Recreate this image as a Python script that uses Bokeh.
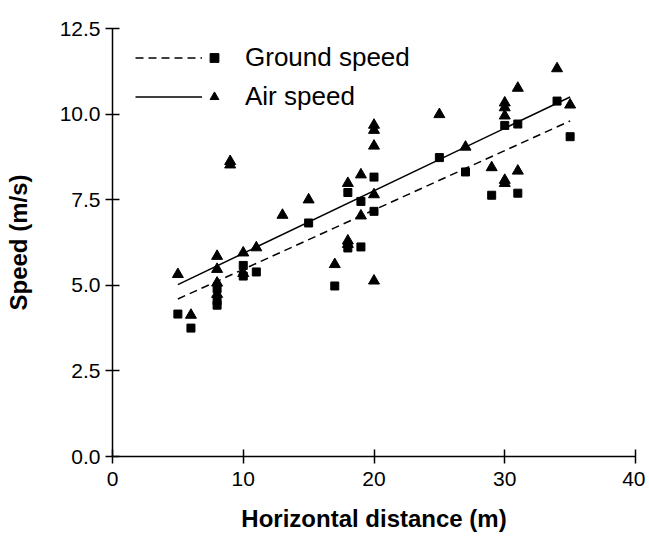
from bokeh.plotting import figure
from bokeh.models import Range1d, FixedTicker, PrintfTickFormatter, Legend, LegendItem
from bokeh.embed import file_html
from bokeh.resources import INLINE

# Ground speed (squares)
ground_x = [5, 6, 8, 8, 8, 10, 10, 11, 15, 17, 18, 18, 19, 19, 20, 20, 25, 27, 29, 30, 31, 31, 34, 35]
ground_y = [4.16, 3.75, 4.9, 4.55, 4.42, 5.58, 5.27, 5.39, 6.82, 4.98, 7.71, 6.09, 7.45, 6.12, 8.16, 7.16,
            8.73, 8.31, 7.63, 9.67, 9.71, 7.69, 10.38, 9.34]

# Air speed (triangles)
air_x = [5, 6, 8, 8, 8, 8, 9, 9, 10, 10, 11, 13, 15, 17, 18, 18, 18, 19, 19, 20, 20, 20, 20, 20,
         25, 27, 29, 30, 30, 30, 30, 30, 31, 31, 34, 35]
air_y = [5.32, 4.13, 5.85, 5.47, 5.07, 4.74, 8.62, 8.52, 5.95, 5.35, 6.1, 7.05, 7.5, 5.61, 7.98, 6.3, 6.2,
         8.23, 7.03, 9.68, 9.53, 9.07, 7.65, 5.13, 9.99, 9.04, 8.44, 10.33, 10.19, 9.95, 8.07, 7.98,
         10.76, 8.34, 11.33, 10.27]

# Regression lines (end points)
fit_x = [5, 35]
ground_fit = [4.6, 9.8]
air_fit = [5.02, 10.5]

x_ticks = [0, 10, 20, 30, 40]
y_ticks = [0, 2.5, 5, 7.5, 10, 12.5]

FONT = "Liberation Sans"

p = figure(width=645, height=534, output_backend="svg", toolbar_location=None,
           x_range=Range1d(0, 40), y_range=Range1d(0, 12.5),
           min_border_left=112, min_border_top=28, min_border_right=10, min_border_bottom=76,
           x_axis_label="Horizontal distance (m)", y_axis_label="Speed (m/s)")
p.grid.visible = False
p.outline_line_color = None
p.background_fill_color = "white"
p.border_fill_color = "white"

r_gl = p.line(fit_x, ground_fit, line_dash="8 5", line_width=1.5, line_color="black")
r_al = p.line(fit_x, air_fit, line_width=1.5, line_color="black")
r_gs = p.scatter(ground_x, ground_y, marker="square", size=8, color="black")
r_as = p.scatter(air_x, air_y, marker="triangle", size=11, color="black")

for ax in (p.xaxis[0], p.yaxis[0]):
    ax.axis_line_width = 1.5
    ax.axis_line_color = "black"
    ax.major_tick_line_width = 1.5
    ax.major_tick_line_color = "black"
    ax.major_tick_in = 7
    ax.major_tick_out = 7
    ax.minor_tick_line_color = None
    ax.major_label_text_font = FONT
    ax.major_label_text_font_size = "21px"
    ax.major_label_text_color = "black"
    ax.axis_label_text_font = FONT
    ax.axis_label_text_font_size = "24px"
    ax.axis_label_text_font_style = "bold"
    ax.axis_label_text_color = "black"

p.xaxis.ticker = FixedTicker(ticks=x_ticks)
p.yaxis.ticker = FixedTicker(ticks=y_ticks)
p.yaxis.formatter = PrintfTickFormatter(format="%.1f")
p.xaxis.major_label_standoff = 8
p.yaxis.major_label_standoff = 5
p.xaxis.axis_label_standoff = 16
p.yaxis.axis_label_standoff = 25

common = dict(spacing=0, padding=0, margin=0, border_line_color=None,
              background_fill_alpha=0, glyph_height=39, label_height=39)

leg_lines = Legend(items=[LegendItem(label=" ", renderers=[r_gl]),
                          LegendItem(label=" ", renderers=[r_al])],
                   location=(23, 340), glyph_width=67, label_standoff=0,
                   label_text_font_size="1px", **common)
leg_marks = Legend(items=[LegendItem(label="Ground speed", renderers=[r_gs]),
                          LegendItem(label="Air speed", renderers=[r_as])],
                   location=(91, 340), glyph_width=22, label_standoff=20,
                   label_text_font=FONT, label_text_font_size="26px",
                   label_text_color="black", **common)
p.add_layout(leg_lines)
p.add_layout(leg_marks)

open("out.html", "w").write(file_html(p, INLINE))
